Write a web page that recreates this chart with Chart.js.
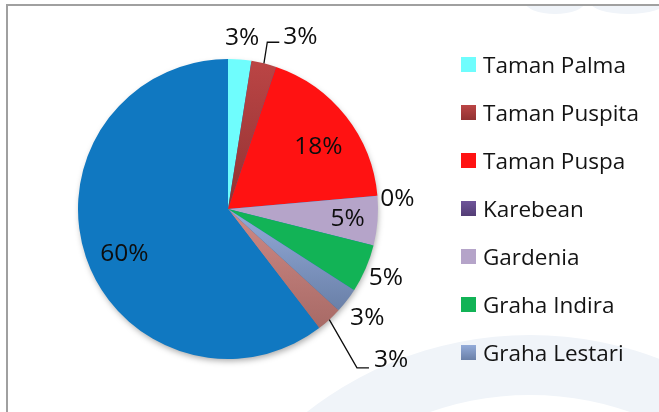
<!DOCTYPE html>
<html>
<head>
<meta charset="utf-8">
<script src="https://cdn.jsdelivr.net/npm/chart.js@4/dist/chart.umd.min.js"></script>
<style>
  html, body { margin: 0; padding: 0; background: #fff; }
  #wrap { width: 659px; height: 412px; position: relative; }
</style>
</head>
<body>
<div id="wrap"><canvas id="pieChart"></canvas></div>
<script>
// Data ------------------------------------------------------------------
const kategori = ['Taman Palma', 'Taman Puspita', 'Taman Puspa', 'Karebean', 'Gardenia',
  'Graha Indira', 'Graha Lestari', 'Kategori 8', 'Kategori 9'];
const nilai = [2.5, 2.7, 18.4, 0, 5.3, 5.2, 2.7, 2.8, 60.4];

// warna: [atas, bawah] (gradien vertikal)
const warna = [
  ['#6ffdfd', '#6ffdfd'],
  ['#bb4545', '#923232'],
  ['#ff1212', '#ff1212'],
  ['#6f559a', '#533d75'],
  ['#b5a4c9', '#b5a4c9'],
  ['#12b356', '#12b356'],
  ['#93abd9', '#6a80a8'],
  ['#cf8a86', '#a86a66'],
  ['#1078c1', '#1078c1']
];

// posisi label: d = jarak (x radius), da = geser sudut (derajat)
const posLabel = [
  { d: 1.144, da: 0.2 },
  { leader: { d: 1.142, da: -0.6, len: 12, gap: 4, dy: -5.5 } },
  { d: 0.729, da: 3.9 },
  { d: 1.131, da: 1.5 },
  { d: 0.80, da: 0.5 },
  { d: 1.148, da: 0.2 },
  { d: 1.18, da: 0.5 },
  { leader: { d: 1.364, da: 3.4, len: 12, gap: 5, dy: -7.8 } },
  { d: 0.753, da: -4.8 }
];

const legendMaxBottom = 385;
const fontTeks = '"Open Sans", "Noto Sans", sans-serif';

// gradien per potongan, dari batas atas ke bawah potongan
function sliceYRange(chart, i) {
  const a = chart.chartArea;
  const cx = (a.left + a.right) / 2, cy = (a.top + a.bottom) / 2;
  const r = Math.min(a.width, a.height) / 2;
  const total = nilai.reduce((s, v) => s + v, 0);
  let before = 0;
  for (let k = 0; k < i; k++) before += nilai[k];
  const a0 = -Math.PI / 2 + before / total * 2 * Math.PI;
  const a1 = a0 + nilai[i] / total * 2 * Math.PI;
  let min = cy, max = cy;
  for (let t = 0; t <= 40; t++) {
    const y = cy + Math.sin(a0 + (a1 - a0) * t / 40) * r;
    min = Math.min(min, y); max = Math.max(max, y);
  }
  return [min, max];
}

function isiWarna(ctx) {
  const chart = ctx.chart;
  const w = warna[ctx.dataIndex];
  if (!chart.chartArea || w[0] === w[1]) return w[0];
  const [y0, y1] = sliceYRange(chart, ctx.dataIndex);
  const g = chart.ctx.createLinearGradient(0, y0, 0, Math.max(y1, y0 + 1));
  g.addColorStop(0, w[0]);
  g.addColorStop(1, w[1]);
  return g;
}

// Latar: bingkai dan watermark
const latarPlugin = {
  id: 'latar',
  beforeDraw(chart) {
    const c = chart.ctx;
    c.save();
    c.fillStyle = '#ffffff';
    c.fillRect(0, 0, chart.width, chart.height);
    c.fillStyle = '#f0f4f9';
    c.beginPath();
    c.arc(530, 697, 362, 0, Math.PI * 2);
    c.arc(530, 697, 302, 0, Math.PI * 2, true);
    c.fill();
    c.beginPath();
    c.ellipse(555, 2, 30, 12, 0, 0, Math.PI * 2);
    c.ellipse(628, 2, 38, 12, 0, 0, Math.PI * 2);
    c.fill();
    c.fillStyle = '#ffffff';
    c.fillRect(0, 0, chart.width, 4);
    c.fillStyle = '#a0a0a0';
    c.fillRect(6, 4, chart.width - 6, 2);
    c.fillRect(6, 4, 2, chart.height - 4);
    c.restore();
  },
  beforeDatasetsDraw(chart) {
    const arc = chart.getDatasetMeta(0).data[0];
    if (!arc) return;
    const c = chart.ctx;
    c.save();
    c.shadowColor = 'rgba(0,0,0,0.35)';
    c.shadowBlur = 6;
    c.shadowOffsetX = 1;
    c.shadowOffsetY = 3;
    c.fillStyle = '#1078c1';
    c.beginPath();
    c.arc(arc.x, arc.y, arc.outerRadius - 1, 0, Math.PI * 2);
    c.fill();
    c.restore();
  }
};

// Label persen dengan garis penunjuk
const labelPlugin = {
  id: 'labelPersen',
  afterDatasetsDraw(chart) {
    const c = chart.ctx;
    const meta = chart.getDatasetMeta(0);
    const total = nilai.reduce((s, v) => s + v, 0);
    c.save();
    c.font = '24.5px ' + fontTeks;
    c.fillStyle = '#0d0d0d';
    c.strokeStyle = '#0d0d0d';
    c.lineWidth = 1.3;
    c.textBaseline = 'middle';
    meta.data.forEach((arc, i) => {
      const p = arc.getProps(['x', 'y', 'startAngle', 'endAngle', 'outerRadius'], true);
      const mid = (p.startAngle + p.endAngle) / 2;
      const teks = Math.round(nilai[i] / total * 100) + '%';
      const pos = posLabel[i];
      if (pos.leader) {
        const L = pos.leader;
        const sx = p.x + Math.cos(mid) * p.outerRadius;
        const sy = p.y + Math.sin(mid) * p.outerRadius;
        const ang = mid + L.da * Math.PI / 180;
        const ex = p.x + Math.cos(ang) * p.outerRadius * L.d;
        const ey = p.y + Math.sin(ang) * p.outerRadius * L.d;
        c.beginPath();
        c.moveTo(sx, sy);
        c.lineTo(ex, ey);
        c.lineTo(ex + L.len, ey);
        c.stroke();
        c.textAlign = 'left';
        c.fillText(teks, ex + L.len + L.gap, ey + L.dy);
      } else {
        const ang = mid + pos.da * Math.PI / 180;
        const d = p.outerRadius * pos.d;
        c.textAlign = 'center';
        c.fillText(teks, p.x + Math.cos(ang) * d, p.y + Math.sin(ang) * d);
      }
    });
    c.restore();
  }
};

// Legenda di kanan (terpotong di bawah seperti aslinya)
const legendaPlugin = {
  id: 'legenda',
  afterDraw(chart) {
    const c = chart.ctx;
    c.save();
    c.font = '22.5px ' + fontTeks;
    c.textBaseline = 'alphabetic';
    c.textAlign = 'left';
    kategori.forEach((nama, i) => {
      const top = 57 + i * 48;
      if (top + 15 > legendMaxBottom) return;
      const g = c.createLinearGradient(0, top, 0, top + 15);
      g.addColorStop(0, warna[i][0]);
      g.addColorStop(1, warna[i][1]);
      c.fillStyle = g;
      c.fillRect(461, top, 15, 15);
      c.fillStyle = '#141414';
      c.fillText(nama, 483, top + 15.5);
    });
    c.restore();
  }
};

new Chart(document.getElementById('pieChart'), {
  type: 'pie',
  data: {
    labels: kategori,
    datasets: [{
      data: nilai,
      backgroundColor: isiWarna,
      borderWidth: 0
    }]
  },
  options: {
    responsive: true,
    maintainAspectRatio: false,
    animation: false,
    layout: { padding: { left: 78, right: 281, top: 59, bottom: 53 } },
    plugins: {
      legend: { display: false },
      tooltip: { enabled: true }
    }
  },
  plugins: [latarPlugin, labelPlugin, legendaPlugin]
});
</script>
</body>
</html>
